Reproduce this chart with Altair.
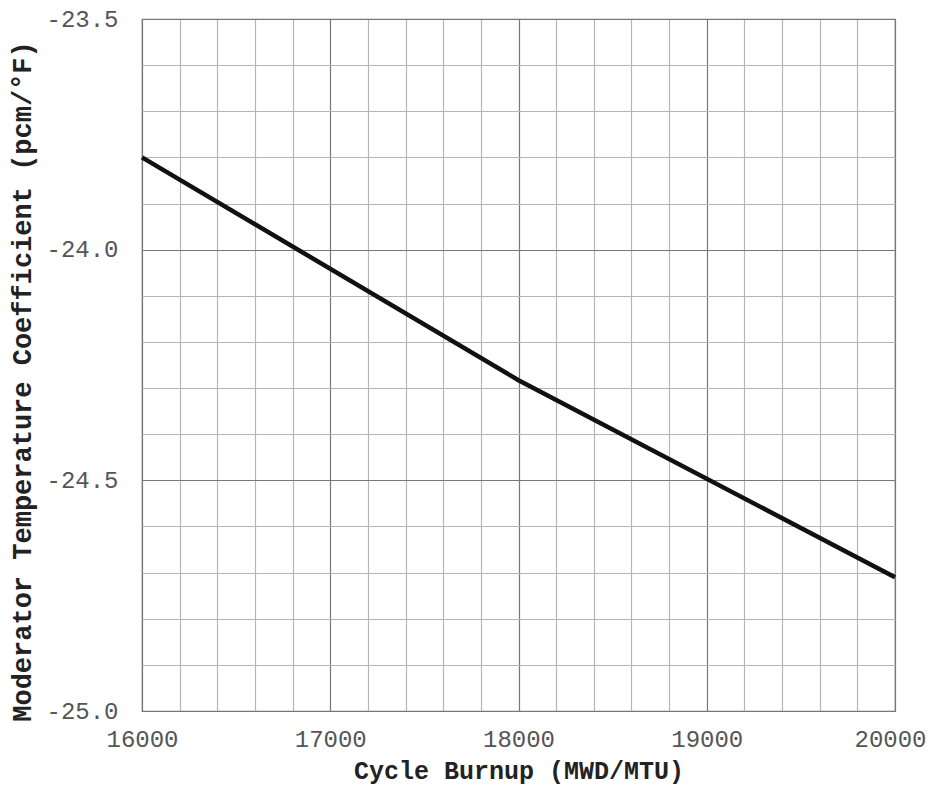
import altair as alt
import pandas as pd

burnup = [16000, 18000, 20000]
mtc = [-23.80, -24.283, -24.71]

x_ticks = [16000 + 200 * i for i in range(21)]
y_ticks = [round(-25.0 + 0.1 * i, 1) for i in range(16)]

df = pd.DataFrame({"burnup": burnup, "mtc": mtc})

FONT = "Courier New, Courier, Nimbus Mono PS, FreeMono, Liberation Mono, monospace"

x_axis = alt.Axis(
    values=x_ticks,
    title="Cycle Burnup (MWD/MTU)",
    labelExpr="datum.value % 1000 == 0 ? format(datum.value, 'd') : ''",
    ticks=False,
    labelFlush=False,
    labelOffset={"condition": {"test": "datum.value == 20000", "value": -5}, "value": 0},
    labelPadding=16,
    labelFont=FONT,
    labelFontSize=24,
    labelColor="#555",
    titleFont=FONT,
    titleFontSize=25,
    titleFontWeight="bold",
    titleColor="#222",
    titlePadding=7,
    domain=False,
    gridColor={"condition": {"test": "datum.value % 1000 == 0", "value": "#777"}, "value": "#b5b5b5"},
    gridWidth=1.2,
)

y_axis = alt.Axis(
    values=y_ticks,
    title="Moderator Temperature Coefficient (pcm/°F)",
    labelExpr="abs(round(datum.value*2) - datum.value*2) < 0.000001 ? replace(format(datum.value, '.1f'), '\u2212', '-') : ''",
    ticks=False,
    labelFlush=False,
    labelPadding=24,
    labelFont=FONT,
    labelFontSize=24,
    labelColor="#555",
    titleFont=FONT,
    titleFontSize=27,
    titleFontWeight="bold",
    titleColor="#222",
    titleBaseline="middle",
    titleX=-120,
    titleY=362,
    domain=False,
    gridColor={"condition": {"test": "abs(round(datum.value*2) - datum.value*2) < 0.000001", "value": "#777"}, "value": "#b5b5b5"},
    gridWidth=1.2,
)

chart = (
    alt.Chart(df)
    .mark_line(color="#111", strokeWidth=4.5)
    .encode(
        x=alt.X("burnup:Q", scale=alt.Scale(domain=[16000, 20000], nice=False, zero=False), axis=x_axis),
        y=alt.Y("mtc:Q", scale=alt.Scale(domain=[-25.0, -23.5], nice=False, zero=False), axis=y_axis),
    )
    .properties(
        width=753,
        height=692,
        autosize=alt.AutoSizeParams(type="none"),
        padding={"left": 134, "top": 11, "right": 32, "bottom": 78},
        background="white",
    )
    .configure_view(stroke="#777", strokeWidth=1.2)
)

chart.save("out.html", embed_options={"renderer": "svg", "actions": False})
